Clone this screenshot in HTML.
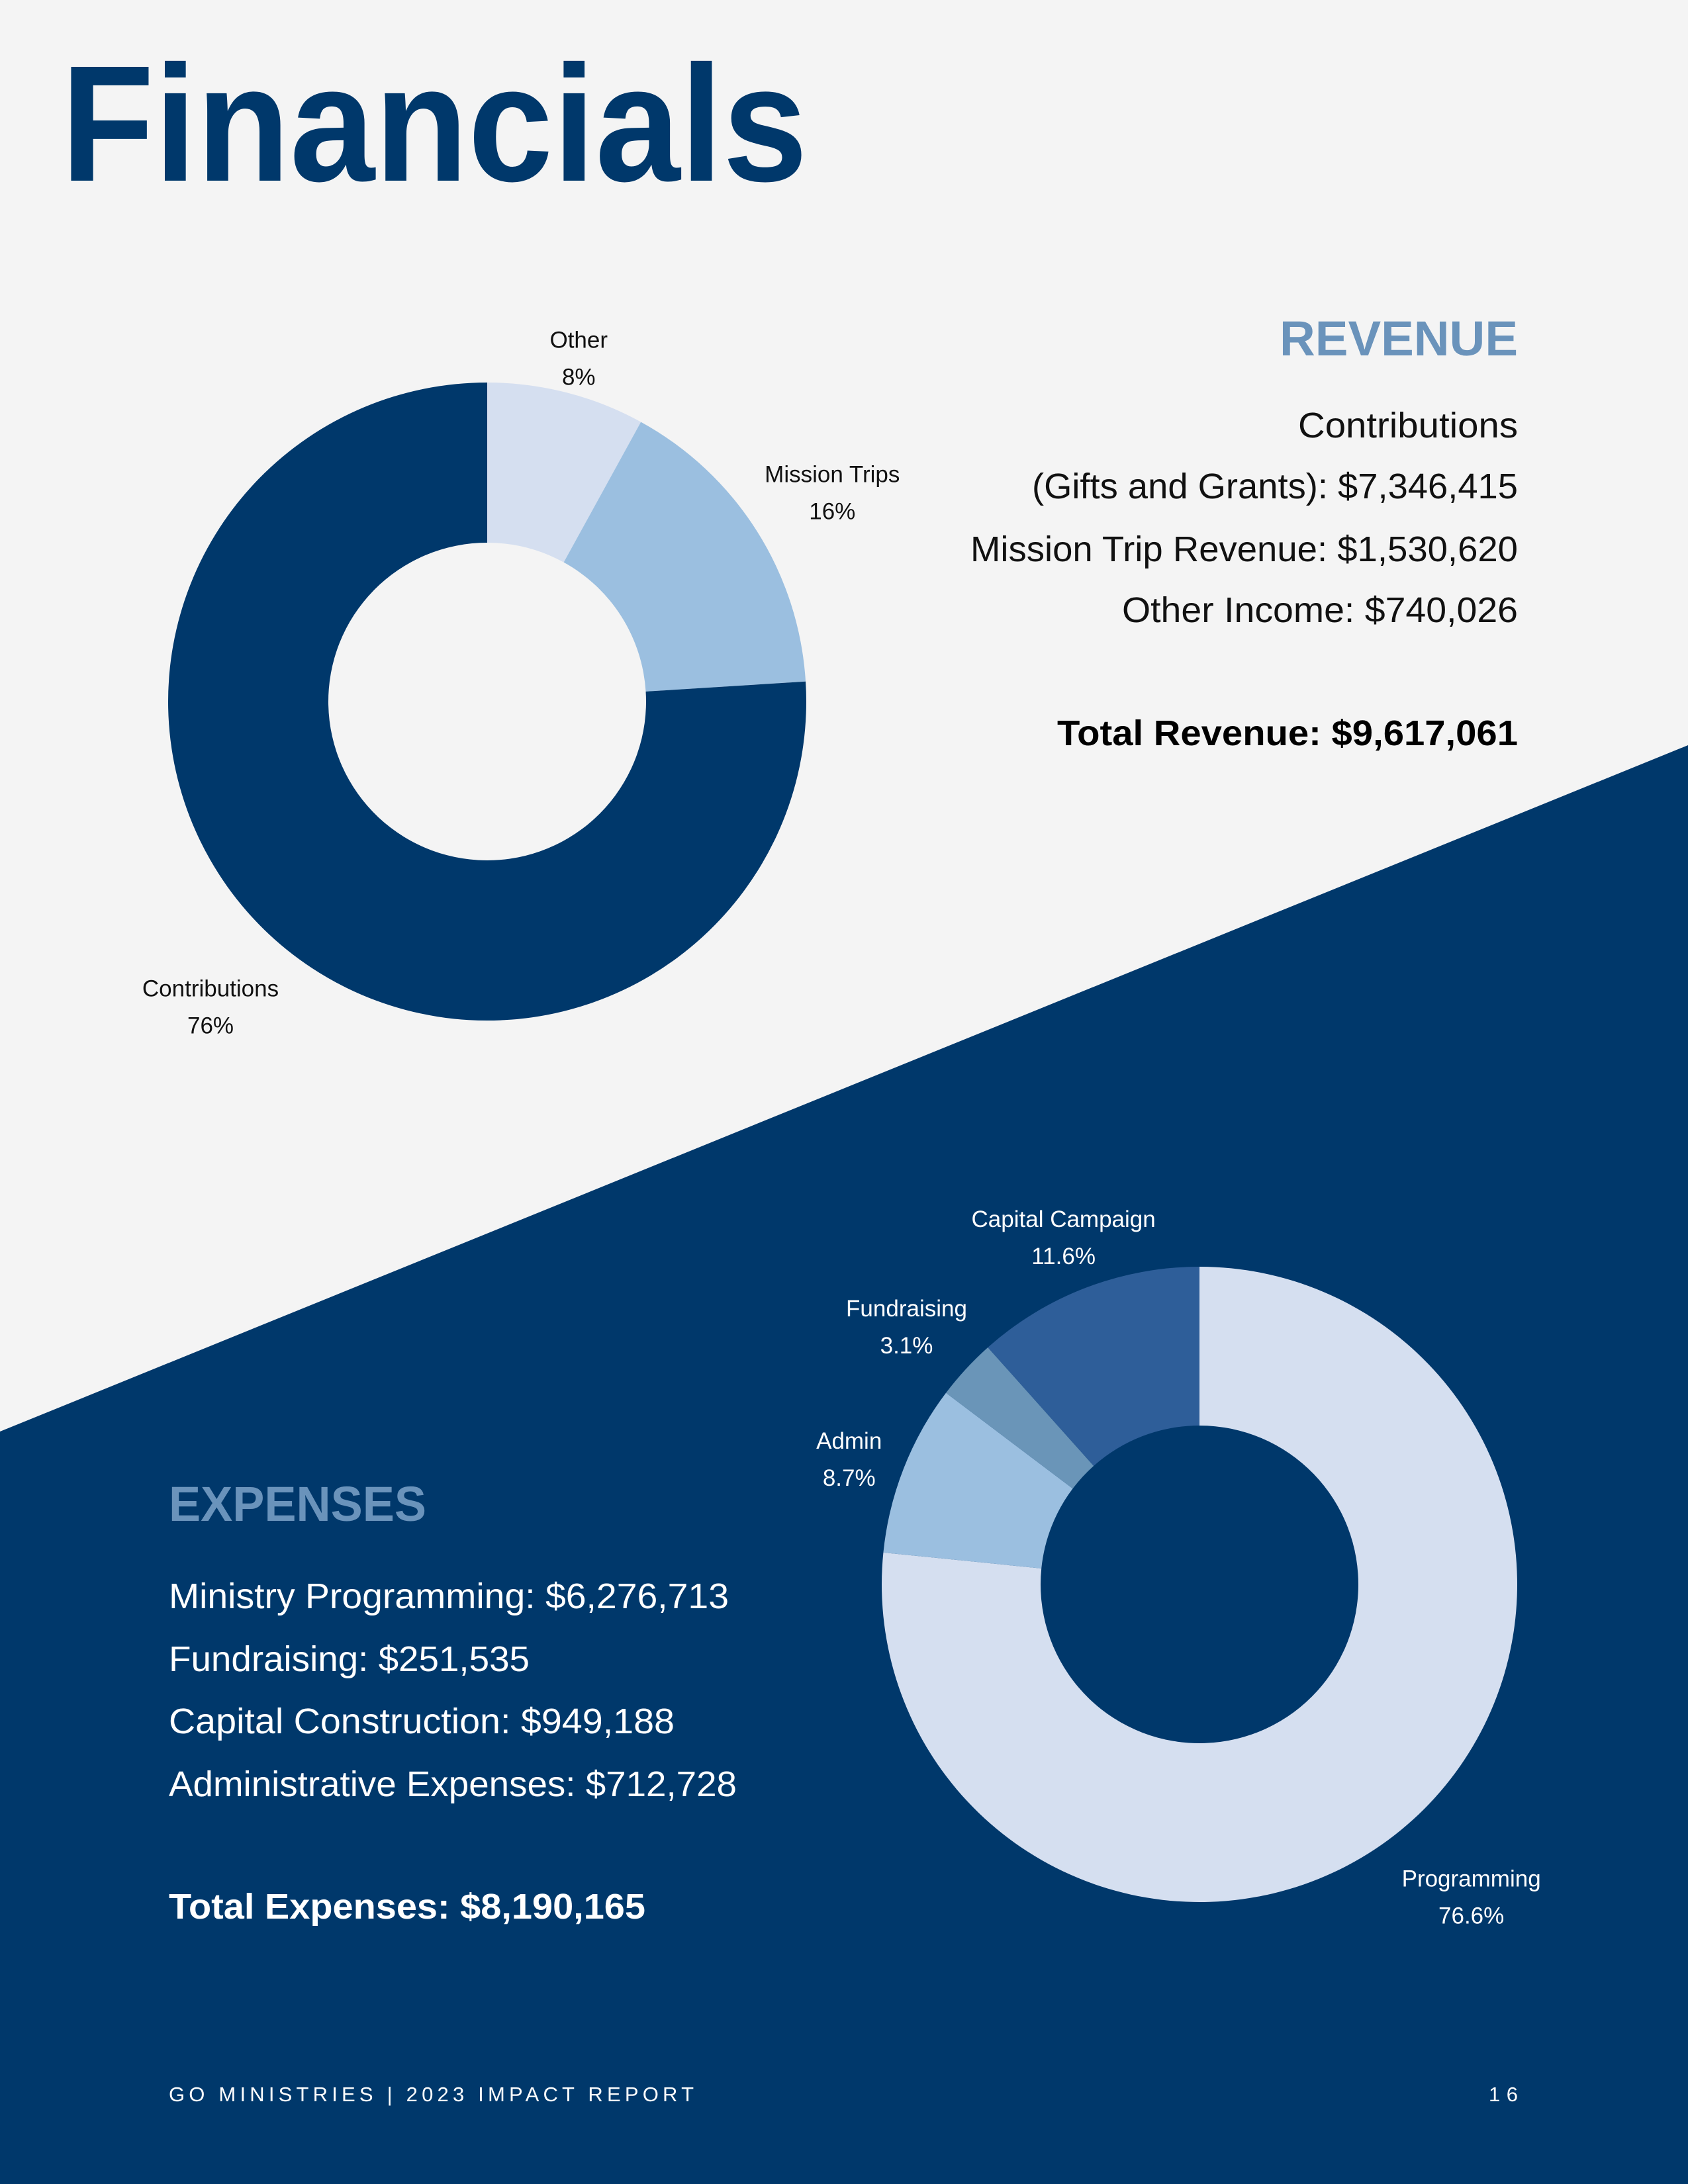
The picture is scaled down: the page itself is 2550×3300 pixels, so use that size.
<!DOCTYPE html>
<html><head><meta charset="utf-8"><style>
html,body{margin:0;padding:0;background:#f4f4f4}
svg{display:block}
text{font-family:"Liberation Sans",sans-serif}
</style></head><body>
<svg id="page" width="2550" height="3300" viewBox="0 0 2550 3300" xmlns="http://www.w3.org/2000/svg">
<rect x="0" y="0" width="2550" height="3300" fill="#f4f4f4"/>
<polygon points="0,2163 2550,1126 2550,3300 0,3300" fill="#00386b"/>
<text x="92" y="273" font-size="250" font-weight="bold" fill="#00386b" textLength="1128" lengthAdjust="spacingAndGlyphs">Financials</text>

<g text-anchor="end">
<text x="2293" y="537" font-size="74" font-weight="bold" fill="#6a93bb" textLength="360" lengthAdjust="spacingAndGlyphs">REVENUE</text>
<text x="2293" y="661" font-size="54" fill="#111" textLength="332" lengthAdjust="spacingAndGlyphs">Contributions</text>
<text x="2293" y="753" font-size="54" fill="#111" textLength="734" lengthAdjust="spacingAndGlyphs">(Gifts and Grants): $7,346,415</text>
<text x="2293" y="848" font-size="54" fill="#111" textLength="827" lengthAdjust="spacingAndGlyphs">Mission Trip Revenue: $1,530,620</text>
<text x="2293" y="940" font-size="54" fill="#111" textLength="598" lengthAdjust="spacingAndGlyphs">Other Income: $740,026</text>
<text x="2293" y="1126" font-size="54" font-weight="bold" fill="#000" textLength="696" lengthAdjust="spacingAndGlyphs">Total Revenue: $9,617,061</text>
</g>

<g>
<text x="255" y="2298" font-size="74" font-weight="bold" fill="#6a93bb" textLength="389" lengthAdjust="spacingAndGlyphs">EXPENSES</text>
<text x="255" y="2430" font-size="54" fill="#fff" textLength="846" lengthAdjust="spacingAndGlyphs">Ministry Programming: $6,276,713</text>
<text x="255" y="2525" font-size="54" fill="#fff" textLength="545" lengthAdjust="spacingAndGlyphs">Fundraising: $251,535</text>
<text x="255" y="2619" font-size="54" fill="#fff" textLength="764" lengthAdjust="spacingAndGlyphs">Capital Construction: $949,188</text>
<text x="255" y="2714" font-size="54" fill="#fff" textLength="858" lengthAdjust="spacingAndGlyphs">Administrative Expenses: $712,728</text>
<text x="255" y="2899" font-size="54" font-weight="bold" fill="#fff" textLength="720" lengthAdjust="spacingAndGlyphs">Total Expenses: $8,190,165</text>
</g>

<text x="255" y="3175" font-size="31" fill="#fff" textLength="793" lengthAdjust="spacing">GO MINISTRIES | 2023 IMPACT REPORT</text>
<text x="2293" y="3175" font-size="31" fill="#fff" text-anchor="end" textLength="44" lengthAdjust="spacing">16</text>

<g id="revChart"></g>
<g id="expChart"></g>
</svg>
<script>
const revCategories = ["Other", "Mission Trips", "Contributions"];
const revValues = [8, 16, 76];
const revLabels = ["8%", "16%", "76%"];
const expCategories = ["Programming", "Admin", "Fundraising", "Capital Campaign"];
const expValues = [76.6, 8.7, 3.1, 11.6];
const expLabels = ["76.6%", "8.7%", "3.1%", "11.6%"];

const NS = "http://www.w3.org/2000/svg";
function angleScale(values){
  const total = values.reduce((a,b)=>a+b,0);
  return v => v/total*Math.PI*2;
}
function pt(cx,cy,r,a){ return [cx+r*Math.sin(a), cy-r*Math.cos(a)]; }
function arcPath(cx,cy,R,r,a0,a1){
  const large = (a1-a0) > Math.PI ? 1 : 0;
  const p0=pt(cx,cy,R,a0), p1=pt(cx,cy,R,a1), q1=pt(cx,cy,r,a1), q0=pt(cx,cy,r,a0);
  return `M${p0[0]},${p0[1]} A${R},${R} 0 ${large} 1 ${p1[0]},${p1[1]} L${q1[0]},${q1[1]} A${r},${r} 0 ${large} 0 ${q0[0]},${q0[1]} Z`;
}
function drawDonut(gId, cats, vals, labels, colors, cfg){
  const g = document.getElementById(gId);
  const sc = angleScale(vals);
  let a = 0;
  vals.forEach((v,i)=>{
    const a1 = a + sc(v);
    const p = document.createElementNS(NS,"path");
    
    
    p.setAttribute("d", arcPath(cfg.cx,cfg.cy,cfg.R,cfg.r,a,a1));
    p.setAttribute("fill", colors[i]);
    g.appendChild(p);
    const mid = (a+a1)/2;
    const lp = pt(cfg.cx,cfg.cy,cfg.R+cfg.labelOff[i],mid);
    const lx = lp[0] + cfg.dx[i], ly = lp[1] + cfg.dy[i];
    const t = document.createElementNS(NS,"text");
    
    
    t.setAttribute("text-anchor","middle");
    t.setAttribute("font-size","35");
    t.setAttribute("fill",cfg.textColor);
    const l1 = document.createElementNS(NS,"tspan");
    l1.setAttribute("x", lx); l1.setAttribute("y", ly-12);
    l1.textContent = cats[i];
    const l2 = document.createElementNS(NS,"tspan");
    l2.setAttribute("x", lx); l2.setAttribute("y", ly+44);
    l2.textContent = labels[i];
    t.appendChild(l1); t.appendChild(l2);
    g.appendChild(t);
    a = a1;
  });
}
drawDonut("revChart", revCategories, revValues, revLabels,
  ["#d5dff0","#9bbfe0","#00386b"],
  {cx:736, cy:1060, R:482, r:240, labelOff:[82,120,95], dx:[-2,13,-23], dy:[24,3,37], textColor:"#111"});
drawDonut("expChart", expCategories, expValues, expLabels,
  ["#d5dff0","#9bbfe0","#6a95b8","#2e5e99"],
  {cx:1812, cy:2394, R:480, r:240, labelOff:[95,95,85,85], dx:[25,6,-27,-4], dy:[42,17,-10,0], textColor:"#fff"});
</script>
</body></html>
